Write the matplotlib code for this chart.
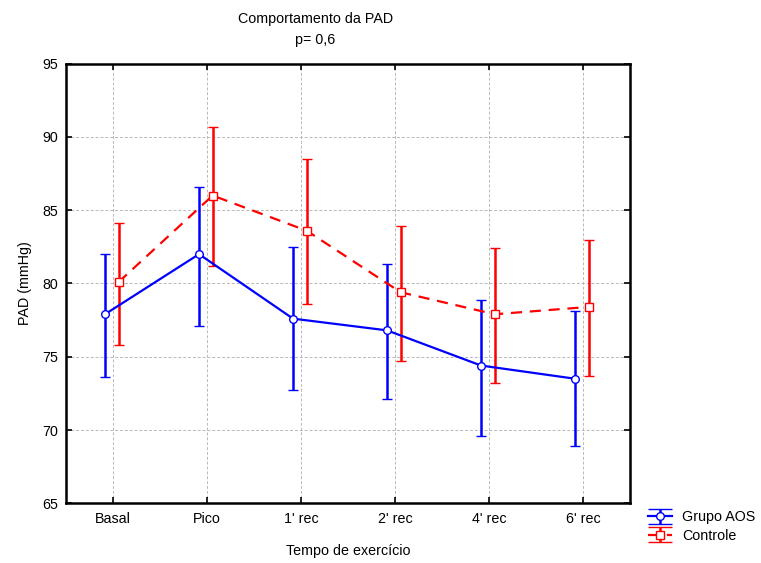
import matplotlib
matplotlib.use("Agg")
import matplotlib.pyplot as plt
from matplotlib.lines import Line2D
import numpy as np

plt.rcParams['font.family'] = ['Liberation Sans', 'DejaVu Sans']

categories = ["Basal", "Pico", "1' rec", "2' rec", "4' rec", "6' rec"]
aos_mean = [77.9, 82.0, 77.6, 76.8, 74.4, 73.5]
aos_low = [73.6, 77.1, 72.7, 72.1, 69.6, 68.9]
aos_high = [82.0, 86.6, 82.5, 81.3, 78.9, 78.1]
ctl_mean = [80.1, 86.0, 83.6, 79.4, 77.9, 78.4]
ctl_low = [75.8, 81.2, 78.6, 74.7, 73.2, 73.7]
ctl_high = [84.1, 90.7, 88.5, 83.9, 82.4, 83.0]
yticks = [65, 70, 75, 80, 85, 90, 95]

fig = plt.figure(figsize=(7.61, 5.63), dpi=100)
ax = fig.add_axes([0.0867, 0.106, 0.7413, 0.781])

x = np.arange(len(categories))
aos_err = [np.array(aos_mean) - np.array(aos_low), np.array(aos_high) - np.array(aos_mean)]
ctl_err = [np.array(ctl_mean) - np.array(ctl_low), np.array(ctl_high) - np.array(ctl_mean)]

ax.errorbar(x - 0.085, aos_mean, yerr=aos_err, color='#0000ff', lw=1.6,
            marker='o', ms=5.5, mfc='white', mec='#0000ff', mew=1.0,
            capsize=3.8, capthick=1.8, elinewidth=1.8, label='Grupo AOS', zorder=3)
ax.errorbar(x + 0.06, ctl_mean, yerr=ctl_err, color='#ff0000', lw=1.6, ls=(0, (5, 3.5)),
            marker='s', ms=5.5, mfc='white', mec='#ff0000', mew=1.0,
            capsize=3.8, capthick=1.8, elinewidth=1.8, label='Controle', zorder=3)

ax.set_xlim(-0.5, 5.5)
ax.set_ylim(65, 95)
ax.set_xticks(x)
ax.set_xticklabels(categories)
ax.set_yticks(yticks)
ax.grid(True, color='#b8b8b8', ls=(0, (3, 2)), lw=0.7)
ax.set_axisbelow(True)
ax.tick_params(direction='in', top=True, right=True, length=4, width=1.2,
               labelsize=10.3, colors='black', pad=6)
for s in ax.spines.values():
    s.set_linewidth(1.8)
    s.set_color('black')

ax.set_xlabel('Tempo de exercício', fontsize=10.3, labelpad=13)
ax.set_ylabel('PAD (mmHg)', fontsize=10.3, labelpad=7)
fig.text(0.4145, 0.967, 'Comportamento da PAD', ha='center', va='center', fontsize=10.3)
fig.text(0.4145, 0.929, 'p= 0,6', ha='center', va='center', fontsize=10.3)

leg = ax.legend(loc='upper left', bbox_to_anchor=(1.021, -0.003), frameon=False,
                fontsize=10.3, handlelength=1.7, handletextpad=0.7, labelspacing=0.3,
                borderaxespad=0)
for ln in leg.findobj(Line2D):
    if ln.get_marker() == '_':
        ln.set_markersize(17)

fig.savefig('out.png', dpi=100)
